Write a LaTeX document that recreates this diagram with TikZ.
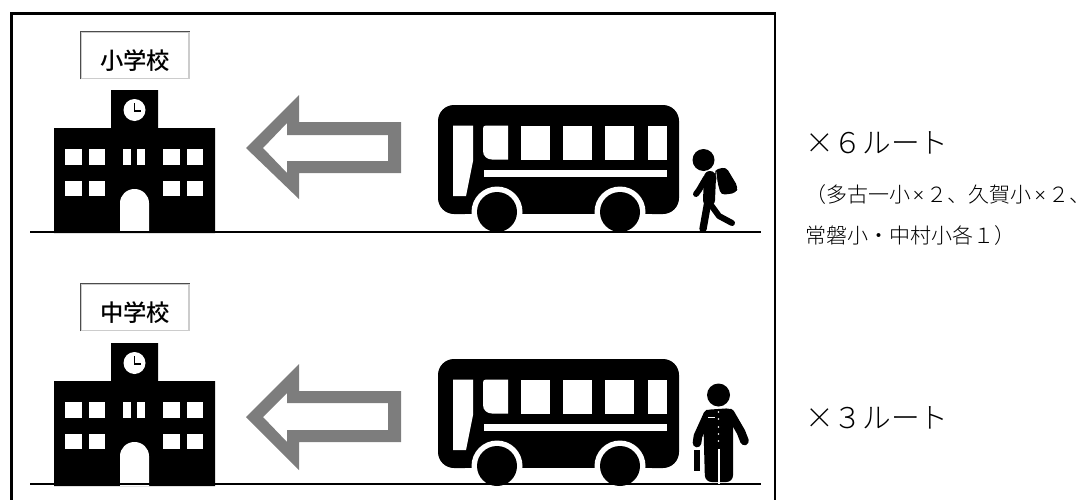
\documentclass[tikz,border=0pt]{standalone}
\usepackage{fontspec}
\setmainfont{Liberation Serif}
\newfontfamily\jpsans{Noto Sans CJK JP Medium}
\newfontfamily\jpthin{Noto Sans CJK JP Light}
\usetikzlibrary{positioning}
\definecolor{arrowgray}{RGB}{125,125,125}
\tikzset{
  labelbox/.style={draw=black!20, line width=0.8pt, fill=white, minimum width=81pt, minimum height=35pt, inner sep=0pt, font=\jpsans\fontsize{17.5}{17.5}\selectfont},
  boxedge/.style={black!70, line width=0.9pt},
  bigtext/.style={anchor=west, inner sep=0pt, font=\jpthin\fontsize{21.5}{21.5}\selectfont},
  smalltext/.style={anchor=west, inner sep=0pt, font=\jpthin\fontsize{15.75}{16}\selectfont},
  groundline/.style={line width=1.6pt, black},
  limb/.style={black, line cap=round, line join=round}
}
\newcommand{\boxlabel}[1]{\raisebox{-10.6pt}[0pt][0pt]{#1}}
\newcommand{\timesmark}{\kern1.8pt{\rmfamily×}\kern1.8pt}
% school building, drawn at the top pair of rows
\newcommand{\drawschool}{
  \fill[black] (54,128) -- (111,128) -- (111,90) -- (158,90) -- (158,128) -- (215,128) -- (215,233) -- (54,233) -- cycle;
  \fill[white] (134.5,110) circle (11);
  \draw[black, line width=1pt] (134.5,103) -- (134.5,111) -- (141,111);
  \foreach \wx/\ww in {65/17,89/16,123/8,137/8,163/17,187/16} {
    \fill[white] (\wx,149) rectangle ++(\ww,16);
  }
  \foreach \wx/\ww in {65/17,89/16,163/17,187/16} {
    \fill[white] (\wx,181) rectangle ++(\ww,15);
  }
  \fill[white] (120,233) -- (120,203) arc[start angle=180, end angle=360, x radius=14.5, y radius=14] -- (149,233) -- cycle;
}
% bus with its windows and wheels
\newcommand{\drawbus}{
  \fill[black, rounded corners=12] (438,105) rectangle (679,214);
  \fill[white] (453,125.5) -- (473,125.5) -- (473,161) -- (466,196) -- (453,196) -- cycle;
  \fill[white] (486,125.5) -- (508,125.5) -- (508,159.5) -- (492,159.5) .. controls (487,159.5) and (483,156) .. (483,151) -- (483,128.5) .. controls (483,126.5) and (484,125.5) .. (486,125.5) -- cycle;
  \foreach \wx/\ww in {521/29,563/29,605/29,648/19} {
    \fill[white] (\wx,125.5) rectangle ++(\ww,34);
  }
  \fill[white] (484,170) rectangle (667,176.5);
  \foreach \wx in {497,620} {
    \fill[white] (\wx,212) circle (25.5);
  }
  \fill[white] (465,214) rectangle (652,240);
  \foreach \wx in {497,620} {
    \fill[black] (\wx,212) circle (20);
  }
}
\begin{document}
\begin{tikzpicture}[x=0.75pt, y=-0.75pt]
  \useasboundingbox (0,0) rectangle (1090,500);
  % frame, open at the bottom
  \draw[line width=2pt, black] (11.5,500) -- (11.5,13.5) -- (775,13.5) -- (775,500);

  % upper row
  \drawschool
  \drawbus
  \draw[groundline] (30,232) -- (761,232);
  \node[labelbox] (elementary) at (135,55.5) {\boxlabel{小学校}};
  \draw[boxedge] (elementary.south west) -- (elementary.north west) -- (elementary.north east);
  \fill[arrowgray, even odd rule] (246,148) -- (299,95) -- (299,122) -- (401,122) -- (401,173) -- (299,173) -- (299,199) -- cycle
    (263,148) -- (287,123) -- (287,135) -- (388,135) -- (388,161) -- (287,161) -- (287,173) -- cycle;
  % walking pupil
  \fill[black] (703.5,160) circle (11);
  \fill[black, rounded corners=3] (714,170) -- (726,167) -- (738,187) -- (736,193) -- (721,195) -- cycle;
  \draw[limb, line width=9pt] (710,177) -- (709,200);
  \draw[white, line width=0.4pt] (716,172) -- (719,196);
  \draw[limb, line width=4.5pt] (706,178) -- (699,190) -- (696,194);
  \draw[limb, line width=5.5pt] (708,201) -- (703,229);
  \draw[limb, line width=4.5pt] (711,205) -- (719,216) -- (732,223);

  % lower row
  \begin{scope}[shift={(0,253)}]
    \drawschool
  \end{scope}
  \begin{scope}[shift={(0,254)}]
    \drawbus
  \end{scope}
  \draw[groundline] (30,484) -- (761,484);
  \node[labelbox] (junior) at (135,307.5) {\boxlabel{中学校}};
  \draw[boxedge] (junior.south west) -- (junior.north west) -- (junior.north east);
  \fill[arrowgray, even odd rule] (246,417) -- (299,364) -- (299,391) -- (401,391) -- (401,442) -- (299,442) -- (299,470) -- cycle
    (263,417) -- (287,393) -- (287,403) -- (388,403) -- (388,430) -- (287,430) -- (287,442) -- cycle;
  % standing pupil with a bag
  \fill[black] (718.5,395) circle (11.5);
  \fill[black, rounded corners=5] (703,410) -- (733,408) -- (733,482) -- (705,482) -- cycle;
  \fill[white] (717.7,449) rectangle (719.7,484);
  \draw[limb, line width=6.5pt] (708,414) -- (698,436) -- (697,443);
  \draw[limb, line width=6.5pt] (730,413) -- (741,432) -- (744.5,441);
  \fill[black] (694,450) rectangle (700,470.5);
  \foreach \by in {412,419,427,434,441} {
    \fill[white] (718.5,\by) circle (0.9);
  }
  \fill[white] (708,417) rectangle (715,418.2);

  % route counts
  \node[bigtext] (routesix) at (805,143) {×６ルート};
  \node[smalltext] (noteone) at (805,195) {（多古一小\timesmark ２、久賀小\timesmark ２、};
  \node[smalltext] (notetwo) at (805,236) {常磐小・中村小各１）};
  \node[bigtext] (routethree) at (805,418) {×３ルート};
\end{tikzpicture}
\end{document}
